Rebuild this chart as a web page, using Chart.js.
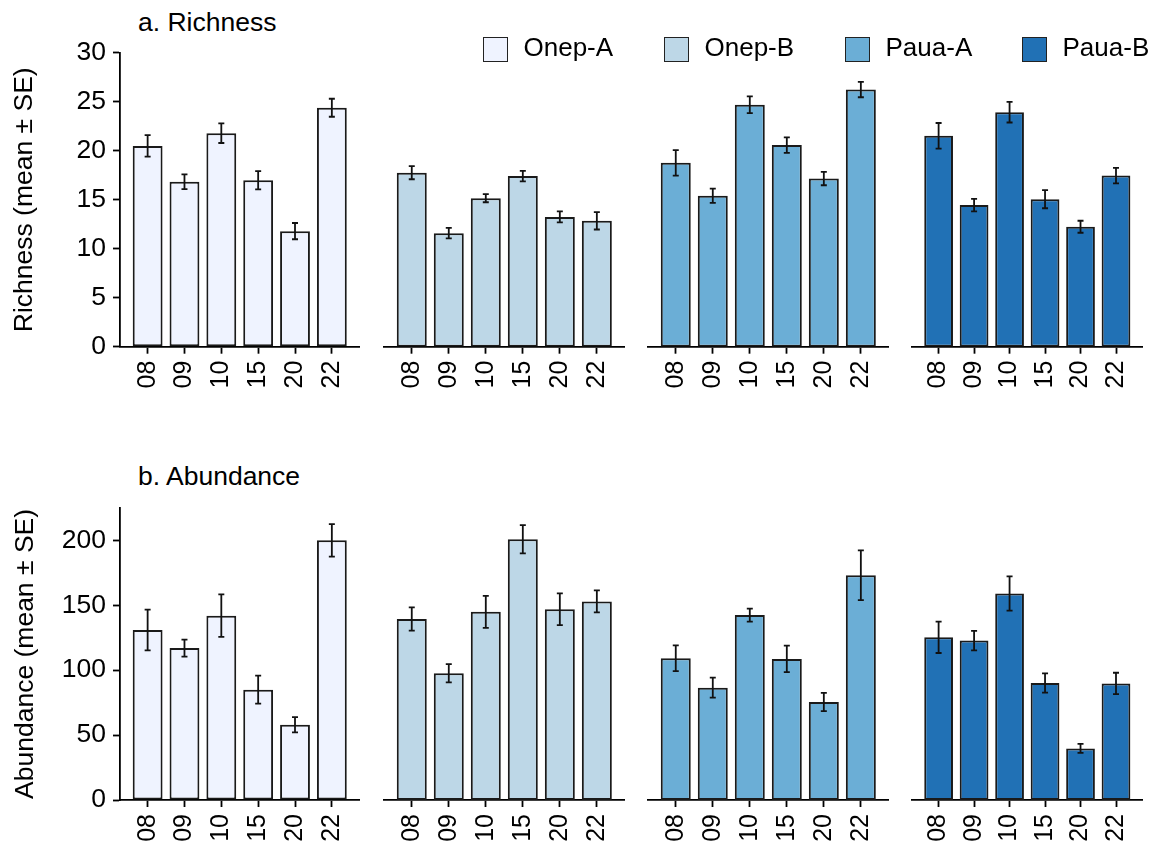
<!DOCTYPE html>
<html>
<head>
<meta charset="utf-8">
<script src="https://cdn.jsdelivr.net/npm/chart.js@4.4.1/dist/chart.umd.min.js"></script>
<style>
  body { margin: 0; background: #fff; font-family: "Liberation Sans", Arial, sans-serif; }
  #wrap { position: relative; width: 1153px; height: 843px; overflow: hidden; }
  #wrap canvas { position: absolute; }
  .title { position: absolute; font-size: 26.5px; line-height: 1; color: #000; white-space: nowrap; }
  .swatch { position: absolute; width: 25px; height: 25px; border: 1.8px solid #222; box-sizing: border-box; }
  .lbl { position: absolute; font-size: 26px; line-height: 1; color: #000; white-space: nowrap; }
</style>
</head>
<body>
<div id="wrap">
  <div class="title" style="left:138px; top:9px;">a. Richness</div>
  <div class="title" style="left:138px; top:463px;">b. Abundance</div>
</div>
<script>
// --- data ---
const years = ['08', '09', '10', '15', '20', '22'];
const groups = ['Onep-A', 'Onep-B', 'Paua-A', 'Paua-B'];
const groupColors = ['#eff3ff', '#bdd7e7', '#6baed6', '#2171b5'];

// richness mean and SE per group
const richOnepA = [20.5, 16.85, 21.8, 17.0, 11.8, 24.4];
const richOnepASE = [1.1, 0.75, 1.0, 0.93, 0.83, 0.92];
const richOnepB = [17.7, 11.55, 15.1, 17.35, 13.2, 12.8];
const richOnepBSE = [0.67, 0.54, 0.41, 0.54, 0.56, 0.88];
const richPauaA = [18.7, 15.35, 24.6, 20.5, 17.1, 26.15];
const richPauaASE = [1.3, 0.73, 0.85, 0.78, 0.68, 0.78];
const richPauaB = [21.45, 14.4, 23.85, 15.0, 12.2, 17.4];
const richPauaBSE = [1.3, 0.64, 1.05, 0.92, 0.61, 0.79];

// abundance mean and SE per group
const abunOnepA = [131, 117, 142, 85, 58, 200];
const abunOnepASE = [15.7, 6.5, 16.4, 10.8, 5.9, 12.5];
const abunOnepB = [138.5, 97, 144, 199.5, 146, 152];
const abunOnepBSE = [8.9, 7.0, 12.2, 10.8, 12.1, 8.4];
const abunPauaA = [108.5, 86, 141.5, 108, 75, 172];
const abunPauaASE = [9.8, 7.6, 5.0, 10.2, 7.0, 19.0];
const abunPauaB = [124.5, 122, 158, 89.5, 39.5, 89.2];
const abunPauaBSE = [12.0, 7.5, 13.1, 7.4, 3.4, 8.2];

const richTicks = { max: 30, step: 5 };
const abunTicks = { max: 225, step: 50 };

// --- layout ---
const FONT = "'Liberation Sans', Arial, sans-serif";
Chart.defaults.font.family = FONT;
Chart.defaults.color = '#000';

const wrap = document.getElementById('wrap');
const panelLeft = [120, 384, 648, 912];
const panelRight = [360, 625, 889, 1153];

const rows = [
  { top: 30, areaTop: 51.7, areaBottom: 346.7, bottom: 410, ticks: richTicks, yTitle: 'Richness (mean \u00b1 SE)', titlePad: 9,
    means: [richOnepA, richOnepB, richPauaA, richPauaB], ses: [richOnepASE, richOnepBSE, richPauaASE, richPauaBSE] },
  { top: 485, areaTop: 506, areaBottom: 800, bottom: 843, ticks: abunTicks, yTitle: 'Abundance (mean \u00b1 SE)', titlePad: 10,
    means: [abunOnepA, abunOnepB, abunPauaA, abunPauaB], ses: [abunOnepASE, abunOnepBSE, abunPauaASE, abunPauaBSE] }
];

// error bars drawn with the chart's own y scale
const errorBars = {
  id: 'errorBars',
  afterDatasetsDraw(chart) {
    const ctx = chart.ctx;
    const ys = chart.scales.y;
    const ds = chart.data.datasets[0];
    const meta = chart.getDatasetMeta(0);
    ctx.save();
    ctx.strokeStyle = '#111';
    ctx.lineWidth = 1.8;
    meta.data.forEach((bar, i) => {
      const v = ds.data[i].y, e = ds.se[i];
      const hi = ys.getPixelForValue(v + e);
      const lo = ys.getPixelForValue(v - e);
      ctx.beginPath();
      ctx.moveTo(bar.x, hi); ctx.lineTo(bar.x, lo);
      ctx.moveTo(bar.x - 3, hi); ctx.lineTo(bar.x + 3, hi);
      ctx.moveTo(bar.x - 3, lo); ctx.lineTo(bar.x + 3, lo);
      ctx.stroke();
    });
    ctx.restore();
  }
};

function drawPanel(row, p) {
  const L = panelLeft[p], R = panelRight[p];
  const cLeft = p === 0 ? 0 : L - 10;
  const cRight = Math.min(R + 10, 1153);
  const canvas = document.createElement('canvas');
  canvas.width = cRight - cLeft;
  canvas.height = row.bottom - row.top;
  canvas.style.left = cLeft + 'px';
  canvas.style.top = row.top + 'px';
  wrap.appendChild(canvas);

  new Chart(canvas, {
    type: 'bar',
    data: {
      datasets: [{
        data: row.means[p].map((v, i) => ({ x: i, y: v })),
        se: row.ses[p],
        backgroundColor: groupColors[p],
        borderColor: '#1a1a1a',
        borderWidth: 2,
        borderSkipped: false,
        barPercentage: 0.81,
        categoryPercentage: 1
      }]
    },
    options: {
      responsive: false,
      animation: false,
      devicePixelRatio: 1,
      layout: { padding: { left: p === 0 ? 0 : L - cLeft, right: cRight - R, top: row.areaTop - row.top, bottom: 0 } },
      plugins: { legend: { display: false }, tooltip: { enabled: false } },
      scales: {
        x: {
          type: 'linear', min: -0.75, max: 5.75, offset: false,
          afterBuildTicks: s => { s.ticks = s.ticks.filter(t => Number.isInteger(t.value) && t.value >= 0 && t.value < years.length); },
          afterFit: s => { s.height = row.bottom - row.areaBottom; },
          grid: { drawOnChartArea: false, drawTicks: true, tickLength: 7, tickWidth: 1.8, tickColor: '#000', offset: false },
          border: { display: true, color: '#000', width: 1.8 },
          ticks: { stepSize: 1, includeBounds: false, autoSkip: false, minRotation: 90, maxRotation: 90, padding: 7,
                   color: '#000', font: { size: 25 }, callback: v => years[v] }
        },
        y: {
          display: p === 0,
          min: 0, max: row.ticks.max,
          afterFit: s => { s.width = p === 0 ? L : 0; },
          grid: { drawOnChartArea: false, drawTicks: true, tickLength: 7, tickWidth: 1.8, tickColor: '#000' },
          border: { display: true, color: '#000', width: 1.8 },
          ticks: { stepSize: row.ticks.step, includeBounds: false, padding: 7, color: '#000', font: { size: 26.5 } },
          title: { display: true, text: row.yTitle, color: '#000', font: { size: 26.5 }, padding: { top: row.titlePad, bottom: 0 } }
        }
      }
    },
    plugins: [errorBars]
  });
}

rows.forEach(row => { for (let p = 0; p < 4; p++) drawPanel(row, p); });

// legend
const legendLeft = [483, 664, 845, 1022];
groups.forEach((g, i) => {
  const sw = document.createElement('div');
  sw.className = 'swatch';
  sw.style.left = legendLeft[i] + 'px';
  sw.style.top = '37px';
  sw.style.background = groupColors[i];
  wrap.appendChild(sw);
  const lb = document.createElement('div');
  lb.className = 'lbl';
  lb.style.left = (legendLeft[i] + 40.5) + 'px';
  lb.style.top = '34px';
  lb.textContent = g;
  wrap.appendChild(lb);
});
</script>
</body>
</html>
